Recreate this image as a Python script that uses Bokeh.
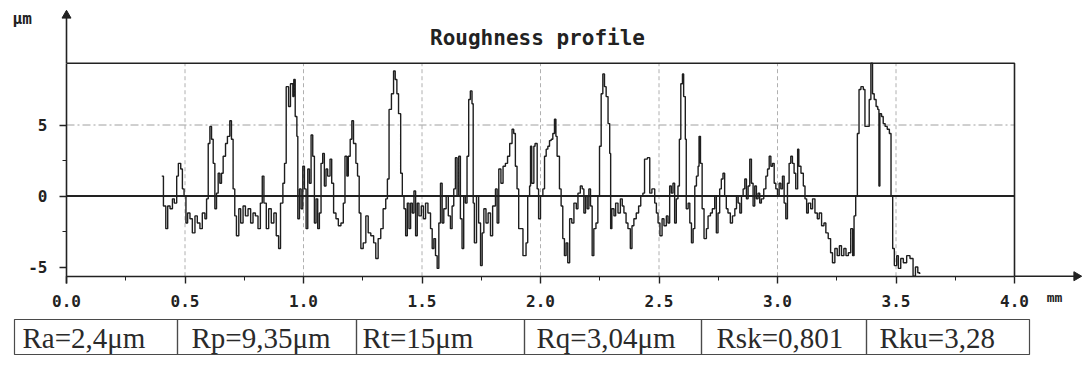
from bokeh.plotting import figure
from bokeh.models import Range1d, LinearAxis, FixedTicker, Label
from bokeh.embed import file_html
from bokeh.resources import INLINE
from bokeh.core.properties import value

# ---------------- data ----------------
title_text = "Roughness profile"
y_unit = "μm"
x_unit = "mm"
x_ticks = [0.0, 0.5, 1.0, 1.5, 2.0, 2.5, 3.0, 3.5, 4.0]
x_tick_labels = ["0.0", "0.5", "1.0", "1.5", "2.0", "2.5", "3.0", "3.5", "4.0"]
x_minor = [0.25, 0.75, 1.25, 1.75, 2.25, 2.75, 3.25, 3.75]
y_ticks = [-5, 0, 5]
y_tick_labels = ["-5", "0", "5"]
y_minor = [-2.5, 2.5]
x_grid = [0.5, 1.0, 1.5, 2.0, 2.5, 3.0, 3.5]
y_grid = [5]
x_max = 4.0
Rp = 9.35
Rt = 15.0
stat_labels = ["Ra=2,4μm", "Rp=9,35μm", "Rt=15μm", "Rq=3,04μm", "Rsk=0,801", "Rku=3,28"]

profile_x = [
    0.402, 0.409, 0.419, 0.427, 0.437, 0.447, 0.455, 0.465, 0.472, 0.482, 0.489, 0.496,
    0.504, 0.511, 0.521, 0.531, 0.542, 0.552, 0.563, 0.573, 0.584, 0.591, 0.598, 0.605,
    0.612, 0.619, 0.626, 0.633, 0.640, 0.647, 0.654, 0.661, 0.671, 0.679, 0.689, 0.696,
    0.703, 0.710, 0.717, 0.727, 0.735, 0.745, 0.755, 0.766, 0.777, 0.787, 0.797, 0.808,
    0.818, 0.826, 0.833, 0.843, 0.853, 0.864, 0.875, 0.885, 0.895, 0.903, 0.913, 0.920,
    0.927, 0.937, 0.945, 0.955, 0.959, 0.965, 0.972, 0.976, 0.983, 0.990, 0.997, 1.004,
    1.011, 1.018, 1.025, 1.032, 1.039, 1.046, 1.053, 1.060, 1.067, 1.074, 1.081, 1.088,
    1.095, 1.102, 1.112, 1.119, 1.127, 1.137, 1.147, 1.158, 1.168, 1.175, 1.183, 1.189,
    1.197, 1.204, 1.211, 1.221, 1.228, 1.235, 1.242, 1.252, 1.263, 1.273, 1.284, 1.296,
    1.305, 1.315, 1.326, 1.336, 1.347, 1.354, 1.361, 1.371, 1.380, 1.387, 1.394, 1.401,
    1.410, 1.417, 1.424, 1.431, 1.438, 1.445, 1.452, 1.459, 1.466, 1.473, 1.480, 1.487,
    1.497, 1.506, 1.515, 1.525, 1.536, 1.543, 1.550, 1.557, 1.564, 1.571, 1.578, 1.585,
    1.592, 1.602, 1.611, 1.620, 1.627, 1.634, 1.641, 1.648, 1.655, 1.662, 1.669, 1.676,
    1.683, 1.690, 1.697, 1.704, 1.711, 1.716, 1.721, 1.730, 1.739, 1.747, 1.754, 1.761,
    1.770, 1.779, 1.789, 1.798, 1.810, 1.817, 1.824, 1.833, 1.842, 1.852, 1.861, 1.870,
    1.880, 1.887, 1.894, 1.901, 1.908, 1.917, 1.926,
    1.939, 1.946, 1.954, 1.958, 1.963, 1.972, 1.977, 1.986, 1.992, 2.000, 2.010, 2.017,
    2.024, 2.031, 2.038, 2.045, 2.052, 2.059, 2.065, 2.070, 2.080, 2.087, 2.094, 2.101,
    2.108, 2.115, 2.123, 2.132, 2.141, 2.151, 2.158, 2.168, 2.176, 2.183, 2.190, 2.197,
    2.204, 2.211, 2.218, 2.225, 2.234, 2.242, 2.249, 2.256, 2.263, 2.270, 2.277, 2.285,
    2.292, 2.296, 2.301, 2.310, 2.317, 2.327, 2.337, 2.345, 2.352, 2.361, 2.369, 2.379,
    2.386, 2.394, 2.404, 2.414, 2.423, 2.432, 2.439, 2.451, 2.461, 2.470, 2.482, 2.489,
    2.496, 2.504, 2.513, 2.521, 2.531, 2.538, 2.545, 2.552, 2.559, 2.566, 2.573, 2.580,
    2.586, 2.592, 2.599, 2.604, 2.611, 2.615, 2.623, 2.630, 2.637, 2.644, 2.651, 2.658,
    2.665, 2.669, 2.675, 2.682, 2.690, 2.700, 2.707, 2.717, 2.725, 2.735, 2.742, 2.749,
    2.756, 2.763, 2.770, 2.777, 2.784, 2.791, 2.801, 2.810, 2.820, 2.827, 2.834, 2.841,
    2.848, 2.855, 2.862, 2.869, 2.876, 2.883, 2.890, 2.897, 2.904, 2.911, 2.918, 2.925,
    2.932, 2.942, 2.951, 2.958, 2.965, 2.972, 2.979, 2.986, 2.993, 3.000, 3.007, 3.014,
    3.021, 3.028, 3.035, 3.042, 3.049, 3.056, 3.063, 3.070, 3.077, 3.085, 3.090, 3.099,
    3.109, 3.116, 3.123, 3.130, 3.140, 3.148, 3.158, 3.168, 3.176, 3.186, 3.196, 3.204,
    3.214, 3.224, 3.232, 3.242, 3.252, 3.261, 3.270, 3.280, 3.289, 3.299, 3.309, 3.317,
    3.323, 3.330, 3.337, 3.344, 3.352, 3.362, 3.369, 3.379, 3.387, 3.394, 3.401, 3.408,
    3.416, 3.423, 3.428, 3.432, 3.439, 3.446, 3.454, 3.463, 3.472, 3.479, 3.486, 3.493,
    3.503, 3.510, 3.520, 3.531, 3.545, 3.559, 3.572, 3.582, 3.592, 3.600,
]
profile_y = [
    1.4, -0.7, -2.3, -0.7, -0.9, -0.2, -0.5, 1.4, 2.3, 1.9, 0.5, 0.0,
    -1.9, -1.2, -1.6, -2.6, -1.4, -1.9, -2.3, -1.2, -1.6, -0.2, 3.7, 4.9,
    4.0, 2.3, -0.9, 0.2, 1.6, 0.9, 1.6, 2.8, 3.7, 4.2, 5.3, 4.0,
    0.5, -1.4, -2.8, -0.9, -1.9, -0.7, -1.4, -0.9, -1.9, -1.2, -1.4, -2.3,
    -0.5, 1.4, -0.5, -2.3, -0.9, -1.9, -1.2, -2.8, -3.7, -0.5, 0.9, 2.3,
    7.7, 6.3, 7.9, 7.0, 8.2, 5.6, 4.2, -1.6, 0.5, -0.9, 2.1, 0.5,
    -2.3, 1.9, 0.9, 4.3, 2.8, -1.9, -0.2, -2.3, -1.2, 2.3, 3.0, 0.7,
    1.9, 1.4, 2.6, 0.9, -1.2, -1.6, -2.1, -1.9, -0.5, 2.8, 1.4, 2.8,
    4.0, 5.3, 3.7, 2.3, 1.4, -1.2, -3.7, -3.3, -1.4, -2.6, -2.8, -3.3,
    -4.4, -3.0, -2.3, -0.9, -0.2, 1.2, 6.1, 7.2, 8.8, 8.2, 7.2, 5.8,
    1.6, 0.0, -0.9, -2.8, -0.5, -2.3, -0.5, -1.2, 0.35, -2.8, -0.5, -1.4,
    -0.7, -1.6, -0.5, -1.2, -2.3, -3.7, -3.0, -4.2, -5.1, -1.9, 0.9, -1.9,
    -0.9, 0.0, -1.4, -2.3, -0.7, 0.5, 2.7, 0.0, 2.8, -1.6, -3.7, 0.0,
    -0.5, 2.8, 6.8, 7.4, 6.5, -0.5, -3.3, 0.0, -1.9, -4.9, -2.6, -0.9,
    -1.9, -1.2, -2.8, -0.7, 0.5, -1.9, 1.9, 0.9, 2.1, 2.3, 2.8, 3.7,
    4.7, 4.4, 2.1, 0.5, -2.3, -2.3, -4.2,
    -3.3, 0.0, 0.7, 3.5, 0.9, 3.5, 3.7, 0.5, -1.6, 0.0, 0.5, 2.8,
    3.3, 3.5, 3.9, 4.0, 4.4, 5.4, 4.2, 2.8, 0.5, -0.7, -3.0, -4.2,
    -3.3, -4.7, -1.6, -1.9, -0.5, -0.9, 0.2, 0.7, 0.5, -1.2, 0.0, -0.9,
    0.5, -0.7, -4.2, -2.3, -1.9, 0.0, 3.5, 7.2, 8.6, 7.7, 7.0, 5.1,
    3.0, -2.3, -0.9, -1.4, -0.5, -1.2, -0.2, -0.7, -1.2, -1.9, -2.3, -3.7,
    -2.1, -1.6, -1.2, -0.7, 0.0, 0.2, 2.6, 2.7, 0.2, 0.5, -0.5, -1.2,
    -1.9, -2.8, -1.6, -2.1, -1.4, -1.9, 0.7, 0.2, 0.9, -1.9, -0.2, 0.7,
    4.0, 7.9, 8.6, 7.0, 4.0, -0.9, -0.5, -1.9, -3.3, -2.3, 0.7, 1.4,
    2.1, 4.2, 2.3, -0.9, -3.0, -2.3, -1.4, -1.2, -0.9, 0.0, -2.6, -1.2,
    0.5, 1.2, 1.6, 0.0, -0.9, -1.2, -1.9, -1.4, -0.9, 0.0, -0.5, -1.2,
    0.0, 0.5, 1.2, -0.2, 0.7, 2.6, 0.9, -0.7, 0.7, -0.2, 0.2, -0.5,
    -0.2, 0.5, 1.4, 1.9, 2.8, 2.1, 2.3, 0.9, 0.5, 0.0, 0.9, 0.5,
    1.4, -0.5, -1.6, 0.9, 2.3, 2.8, 2.3, 1.6, 0.5, 3.3, 2.1, 1.6,
    0.7, -0.2, -1.2, -0.5, -0.9, -0.2, -1.2, -1.6, -1.2, -2.1, -1.9, -2.6,
    -3.0, -4.0, -4.7, -3.7, -4.2, -3.5, -4.2, -3.7, -4.2, -4.0, -2.3, -4.2,
    -1.4, 0.0, 4.4, 7.5, 7.7, 7.5, 4.9, 4.9, 6.8, 9.35, 7.2, 6.8,
    6.3, 6.1, 0.7, 5.8, 5.6, 5.1, 4.9, 4.7, 4.4, 0.0, -3.7, -4.9,
    -4.2, -5.1, -4.4, -4.7, -4.2, -4.4, -5.65, -5.0, -5.4, -5.5,
]

# ---------------- layout constants (pixels) ----------------
W, H = 1090, 368
X0_PX, PX_PER_MM = 66.0, 237.0     # canvas x of 0 mm, pixels per mm
Y0_PX, PX_PER_UM = 195.5, 14.2     # canvas y of 0 um, pixels per um


def xd(px):
    return (px - X0_PX) / PX_PER_MM


def yd(py):
    return (Y0_PX - py) / PX_PER_UM


INK = "#222222"
MONO = "DejaVu Sans Mono"
y_bot = Rp - Rt

p = figure(width=W, height=H,
           x_range=Range1d(xd(0), xd(W)), y_range=Range1d(yd(H), yd(0)),
           output_backend="svg", toolbar_location=None, min_border=0,
           x_axis_type=None, y_axis_type=None)
p.outline_line_color = None
p.background_fill_color = "white"
p.border_fill_color = "white"

# grid lines
p.segment(x0=x_grid, y0=[y_bot] * len(x_grid), x1=x_grid, y1=[Rp] * len(x_grid),
          line_color="#b0b0b0", line_width=1, line_dash="4 3")
p.segment(x0=[0] * len(y_grid), y0=y_grid, x1=[x_max] * len(y_grid), y1=y_grid,
          line_color="#a0a0a0", line_width=1, line_dash="8 3 2 3")

# frame (top + right) and mean line
p.line([0, x_max, x_max], [Rp, Rp, y_bot], line_color=INK, line_width=1.6)
p.line([0, x_max], [0, 0], line_color=INK, line_width=2)

# profile
p.step(profile_x, profile_y, mode="after", line_color="#1e1e1e", line_width=1.4)

# axes
xaxis = LinearAxis(fixed_location=y_bot, bounds=(0, x_max),
                   ticker=FixedTicker(ticks=x_ticks, minor_ticks=x_minor),
                   major_label_overrides={t: s for t, s in zip(x_ticks, x_tick_labels)})
yaxis = LinearAxis(fixed_location=0, bounds=(y_bot, Rp),
                   ticker=FixedTicker(ticks=y_ticks, minor_ticks=y_minor),
                   major_label_overrides={t: s for t, s in zip(y_ticks, y_tick_labels)})
for ax in (xaxis, yaxis):
    ax.axis_line_color = INK
    ax.axis_line_width = 1.6
    ax.major_tick_line_color = INK
    ax.major_tick_line_width = 1.4
    ax.major_tick_out = 7
    ax.major_tick_in = 0
    ax.minor_tick_line_color = INK
    ax.minor_tick_out = 4
    ax.minor_tick_in = 0
    ax.major_label_text_font = MONO
    ax.major_label_text_font_style = "bold"
    ax.major_label_text_font_size = "16px"
    ax.major_label_text_color = INK
    ax.major_label_standoff = 12
p.add_layout(xaxis, "below")
p.add_layout(yaxis, "left")

# axis extensions with arrow heads
p.line([0, 0], [Rp, yd(11)], line_color=INK, line_width=1.6)
p.line([0, 0], [y_bot, yd(283)], line_color=INK, line_width=1.6)
p.line([x_max, xd(1078)], [y_bot, y_bot], line_color=INK, line_width=1.6)
p.scatter([0], [yd(15)], marker="triangle", size=9, fill_color=INK, line_color=INK)
p.scatter([xd(1076)], [y_bot], marker="triangle", size=9, angle=-1.5708,
          fill_color=INK, line_color=INK)

# title and unit labels
p.add_layout(Label(x=xd(537), y=yd(37), text=title_text, text_align="center",
                   text_baseline="middle", text_font=MONO, text_font_style="bold",
                   text_font_size="21px", text_color=INK))
p.add_layout(Label(x=xd(12), y=yd(18), text=y_unit, text_align="left",
                   text_baseline="middle", text_font=MONO, text_font_style="bold",
                   text_font_size="16px", text_color=INK))
p.add_layout(Label(x=xd(1054), y=yd(297), text=x_unit, text_align="center",
                   text_baseline="middle", text_font=MONO, text_font_style="bold",
                   text_font_size="13px", text_color=INK))

# statistics table
cell_edges = [14, 177, 356, 524, 701, 866, 1029]
text_pad = [8, 14, 6, 12, 15, 13]
tbl_top, tbl_bot = 319, 354
p.quad(left=[xd(e) for e in cell_edges[:-1]], right=[xd(e) for e in cell_edges[1:]],
       top=yd(tbl_top), bottom=yd(tbl_bot), fill_color=None,
       line_color="#4a4a4a", line_width=1.2)
p.text(x=[xd(e + d) for e, d in zip(cell_edges[:-1], text_pad)],
       y=[yd((tbl_top + tbl_bot) / 2 + 1)] * len(stat_labels), text=stat_labels,
       text_font=value("Liberation Serif"), text_font_size="29px",
       text_align="left", text_baseline="middle", text_color="#2a2a2a")

open("out.html", "w").write(file_html(p, INLINE))
